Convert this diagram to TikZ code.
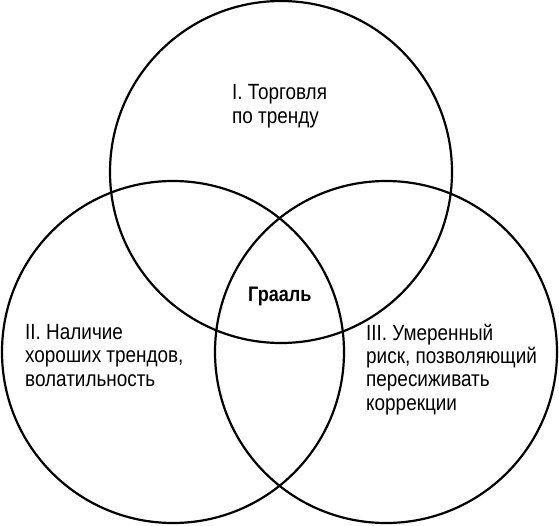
\documentclass[tikz,border=0pt]{standalone}
\usepackage{fontspec}
\setmainfont{Liberation Sans}[FakeStretch=0.86]
\begin{document}
\begin{tikzpicture}[x=1pt,y=-1pt,
  venn/.style={circle,draw=black,line width=2.2pt,minimum size=342pt,inner sep=0pt},
  lab/.style={anchor=base west,align=left,inner sep=0pt,font=\fontsize{22}{23.3}\selectfont}]
\useasboundingbox (0,0) rectangle (559,525);
\node[venn] (c1) at (281,172) {};
\node[venn] (c2) at (173,352) {};
\node[venn] (c3) at (386,352) {};
\node[lab] (t1) at (232,123) {I. Торговля\\по тренду};
\node[lab] (t2) at (25,386) {II. Наличие\\хороших трендов,\\волатильность};
\node[lab] (t3) at (366,410) {III. Умеренный\\риск, позволяющий\\пересиживать\\коррекции};
\node[lab,font=\fontsize{21}{23.3}\selectfont\bfseries] (g) at (248,301) {Грааль};
\end{tikzpicture}
\end{document}
